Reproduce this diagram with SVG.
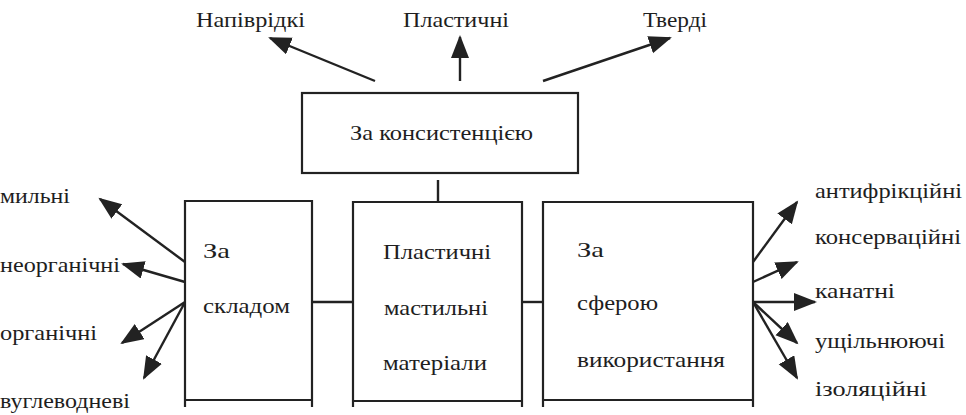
<svg xmlns="http://www.w3.org/2000/svg" width="966" height="415" viewBox="0 0 966 415" font-family="'Liberation Serif', 'DejaVu Serif', serif" font-size="21">
<style>
.box{fill:none;stroke:#222;stroke-width:2.2}
.c{fill:none;stroke:#222;stroke-width:2.4}
.t{font-family:'Liberation Serif','DejaVu Serif',serif;font-size:21px;fill:#1e1e1e}
</style>
<defs>
<marker id="ah" markerUnits="userSpaceOnUse" markerWidth="24" markerHeight="20" refX="21" refY="9" orient="auto" viewBox="0 0 24 20">
<path d="M0,0 L23,9 L0,18 z" fill="#222"/>
</marker>
</defs>
<rect width="966" height="415" fill="#fff"/>
<g id="connectors">
<line class="c" x1="375" y1="81" x2="270" y2="38" marker-end="url(#ah)"/>
<line class="c" x1="460" y1="81" x2="460" y2="37" marker-end="url(#ah)"/>
<line class="c" x1="543" y1="81" x2="670" y2="38" marker-end="url(#ah)"/>
<line class="c" x1="438" y1="180" x2="438" y2="202"/>
<line class="c" x1="312" y1="302" x2="353" y2="302"/>
<line class="c" x1="522" y1="302" x2="543" y2="302"/>
<line class="c" x1="185" y1="262" x2="100" y2="199" marker-end="url(#ah)"/>
<line class="c" x1="185" y1="282" x2="123" y2="264" marker-end="url(#ah)"/>
<line class="c" x1="185" y1="302" x2="122" y2="343" marker-end="url(#ah)"/>
<line class="c" x1="184" y1="304" x2="144" y2="378" marker-end="url(#ah)"/>
<line class="c" x1="753" y1="262" x2="797" y2="202" marker-end="url(#ah)"/>
<line class="c" x1="753" y1="282" x2="797" y2="262" marker-end="url(#ah)"/>
<line class="c" x1="753" y1="302" x2="815" y2="302" marker-end="url(#ah)"/>
<line class="c" x1="753" y1="302" x2="797" y2="343" marker-end="url(#ah)"/>
<line class="c" x1="753" y1="302" x2="797" y2="378" marker-end="url(#ah)"/>
</g>
<g id="top-labels" class="t">
<text x="196" y="27" textLength="109" lengthAdjust="spacingAndGlyphs">Напіврідкі</text>
<text x="403" y="27" textLength="106" lengthAdjust="spacingAndGlyphs">Пластичні</text>
<text x="643" y="27" textLength="64" lengthAdjust="spacingAndGlyphs">Тверді</text>
</g>
<g id="node-consistency" class="t">
<rect class="box" x="302" y="93" width="276" height="80"/>
<text x="350" y="140" textLength="183" lengthAdjust="spacingAndGlyphs">За консистенцією</text>
</g>
<g id="node-composition" class="t">
<path class="box" d="M185,407 V201 H312 V407 M185,400 H312"/>
<text x="203" y="258" textLength="27" lengthAdjust="spacingAndGlyphs">За</text>
<text x="203" y="313" textLength="87" lengthAdjust="spacingAndGlyphs">складом</text>
</g>
<g id="node-main" class="t">
<path class="box" d="M353,407 V202 H522 V407 M353,401 H522"/>
<text x="383" y="259" textLength="108" lengthAdjust="spacingAndGlyphs">Пластичні</text>
<text x="384" y="315" textLength="104" lengthAdjust="spacingAndGlyphs">мастильні</text>
<text x="383" y="370" textLength="104" lengthAdjust="spacingAndGlyphs">матеріали</text>
</g>
<g id="node-usage" class="t">
<path class="box" d="M543,407 V202 H753 V407 M543,400 H753"/>
<text x="577" y="257" textLength="27" lengthAdjust="spacingAndGlyphs">За</text>
<text x="577" y="310" textLength="81" lengthAdjust="spacingAndGlyphs">сферою</text>
<text x="577" y="367" textLength="148" lengthAdjust="spacingAndGlyphs">використання</text>
</g>
<g id="left-labels" class="t">
<text x="0" y="203" textLength="70" lengthAdjust="spacingAndGlyphs">мильні</text>
<text x="0" y="272" textLength="120" lengthAdjust="spacingAndGlyphs">неорганічні</text>
<text x="0" y="340" textLength="97" lengthAdjust="spacingAndGlyphs">органічні</text>
<text x="0" y="408" textLength="130" lengthAdjust="spacingAndGlyphs">вуглеводневі</text>
</g>
<g id="right-labels" class="t">
<text x="815" y="198" textLength="147" lengthAdjust="spacingAndGlyphs">антифрікційні</text>
<text x="815" y="244" textLength="146" lengthAdjust="spacingAndGlyphs">консерваційні</text>
<text x="815" y="298" textLength="80" lengthAdjust="spacingAndGlyphs">канатні</text>
<text x="815" y="348" textLength="130" lengthAdjust="spacingAndGlyphs">ущільнюючі</text>
<text x="815" y="396" textLength="112" lengthAdjust="spacingAndGlyphs">ізоляційні</text>
</g>
</svg>
